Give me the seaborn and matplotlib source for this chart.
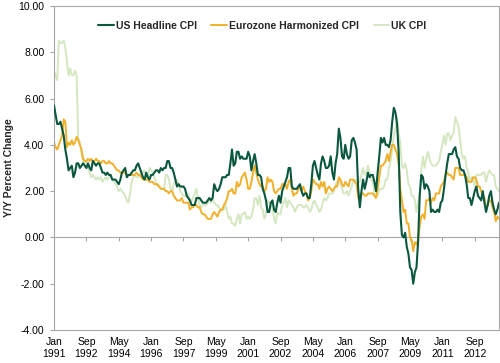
#!/usr/bin/env python3
"""
Year-over-year CPI: US headline, Eurozone harmonized and UK, monthly 1991-2013.
"""

import matplotlib

matplotlib.use("Agg")
import matplotlib.pyplot as plt
import numpy as np
import pandas as pd
import seaborn as sns
from matplotlib.ticker import FormatStrFormatter


START_MONTH = "1991-01"
SERIES = ["US Headline CPI", "Eurozone Harmonized CPI", "UK CPI"]
COLORS = ["#0A573F", "#F0B02A", "#D5E7C1"]
LINE_WIDTHS = [1.5, 1.4, 1.4]
DRAW_ORDER = [3, 2, 1]
GREY = "#A6A6A6"
TICK_EVERY = 20

# monthly y/y % change, one row per year
us_cpi = [
    5.7, 5.3, 4.9, 4.9, 5.0, 4.7, 4.4, 3.8, 3.4, 2.9, 3.0, 3.1,
    2.6, 2.8, 3.2, 3.2, 3.0, 3.1, 3.2, 3.1, 3.0, 3.2, 3.0, 2.9,
    3.3, 3.2, 3.1, 3.2, 3.2, 3.0, 2.8, 2.8, 2.7, 2.8, 2.7, 2.7,
    2.5, 2.5, 2.5, 2.4, 2.3, 2.5, 2.8, 2.9, 3.0, 2.6, 2.7, 2.7,
    2.8, 2.9, 2.9, 3.1, 3.2, 3.0, 2.8, 2.6, 2.5, 2.8, 2.6, 2.5,
    2.7, 2.7, 2.8, 2.9, 2.9, 2.8, 3.0, 2.9, 3.0, 3.0, 3.3, 3.3,
    3.0, 3.0, 2.8, 2.5, 2.2, 2.3, 2.2, 2.2, 2.2, 2.1, 1.8, 1.7,
    1.6, 1.4, 1.4, 1.4, 1.7, 1.7, 1.7, 1.6, 1.5, 1.5, 1.5, 1.6,
    1.7, 1.6, 1.7, 2.3, 2.1, 2.0, 2.1, 2.3, 2.6, 2.6, 2.6, 2.7,
    2.7, 3.2, 3.8, 3.1, 3.2, 3.7, 3.7, 3.4, 3.5, 3.4, 3.4, 3.4,
    3.7, 3.5, 2.9, 3.3, 3.6, 3.2, 2.7, 2.7, 2.6, 2.1, 1.9, 1.6,
    1.1, 1.1, 1.5, 1.6, 1.2, 1.1, 1.5, 1.8, 1.5, 2.0, 2.2, 2.4,
    2.6, 3.0, 3.0, 2.2, 2.1, 2.1, 2.1, 2.2, 2.3, 2.0, 1.8, 1.9,
    1.9, 1.7, 1.7, 2.3, 3.1, 3.3, 3.0, 2.7, 2.5, 3.2, 3.5, 3.3,
    3.0, 3.0, 3.1, 3.5, 2.8, 2.5, 3.2, 3.6, 4.7, 4.3, 3.5, 3.4,
    4.0, 3.6, 3.4, 3.5, 4.2, 4.3, 4.1, 3.8, 2.1, 1.3, 2.0, 2.5,
    2.1, 2.4, 2.8, 2.6, 2.7, 2.7, 2.4, 2.0, 2.8, 3.5, 4.3, 4.1,
    4.3, 4.0, 4.0, 3.9, 4.2, 5.0, 5.6, 5.4, 4.9, 3.7, 1.1, 0.1,
    0.0, 0.2, -0.4, -0.7, -1.3, -1.4, -2.0, -1.5, -1.3, -0.2, 1.8, 2.7,
    2.6, 2.1, 2.3, 2.2, 2.0, 1.1, 1.2, 1.1, 1.1, 1.2, 1.1, 1.5,
    1.6, 2.1, 2.7, 3.2, 3.6, 3.6, 3.6, 3.8, 3.9, 3.5, 3.4, 3.0,
    2.9, 2.9, 2.7, 2.3, 1.7, 1.7, 1.4, 1.7, 2.0, 2.2, 1.8, 1.7,
    1.6, 2.0, 1.5, 1.1, 1.4, 1.8, 2.0, 1.5, 1.2, 1.0, 1.2, 1.5,
]

ez_hicp = [
    4.1, 3.9, 3.8, 4.0, 4.2, 4.4, 5.1, 5.0, 3.9, 4.1, 4.0, 4.2,
    4.0, 4.1, 4.35, 4.2, 4.0, 3.8, 3.4, 3.3, 3.3, 3.4, 3.3, 3.4,
    3.3, 3.3, 3.4, 3.3, 3.3, 3.2, 3.3, 3.3, 3.2, 3.2, 3.3, 3.2,
    3.2, 3.1, 3.0, 2.9, 2.9, 2.8, 2.8, 2.8, 2.8, 2.7, 2.7, 2.7,
    2.7, 2.7, 2.7, 2.8, 2.7, 2.7, 2.6, 2.5, 2.5, 2.5, 2.5, 2.4,
    2.4, 2.4, 2.3, 2.3, 2.3, 2.2, 2.1, 2.1, 2.1, 2.0, 2.0, 1.9,
    2.0, 2.0, 1.8, 1.7, 1.6, 1.6, 1.6, 1.7, 1.5, 1.5, 1.5, 1.5,
    1.2, 1.3, 1.3, 1.4, 1.4, 1.3, 1.3, 1.1, 1.0, 1.0, 0.9, 0.8,
    0.8, 0.8, 1.0, 1.1, 1.0, 0.9, 1.1, 1.2, 1.2, 1.4, 1.5, 1.7,
    2.0, 2.0, 2.1, 1.9, 1.9, 2.4, 2.2, 2.3, 2.6, 2.7, 2.8, 2.5,
    2.1, 2.1, 2.4, 2.8, 3.1, 2.8, 2.5, 2.3, 2.2, 2.2, 2.0, 2.1,
    2.6, 2.4, 2.5, 2.4, 2.0, 1.9, 2.0, 2.1, 2.1, 2.3, 2.3, 2.3,
    2.1, 2.4, 2.5, 2.1, 1.8, 1.9, 1.9, 2.1, 2.2, 2.0, 2.2, 2.0,
    1.9, 1.6, 1.7, 2.0, 2.5, 2.4, 2.3, 2.3, 2.1, 2.4, 2.2, 2.4,
    1.9, 2.1, 2.2, 2.1, 2.0, 2.1, 2.2, 2.2, 2.6, 2.5, 2.3, 2.2,
    2.4, 2.3, 2.2, 2.5, 2.5, 2.5, 2.4, 2.3, 1.7, 1.6, 1.9, 1.9,
    1.8, 1.8, 1.9, 1.9, 1.9, 1.9, 1.8, 1.7, 2.1, 2.6, 3.1, 3.1,
    3.2, 3.3, 3.6, 3.3, 3.7, 4.0, 4.0, 3.8, 3.6, 3.2, 2.1, 1.6,
    1.1, 1.2, 0.6, 0.6, 0.0, -0.1, -0.6, -0.2, -0.3, -0.1, 0.5, 0.9,
    1.0, 0.8, 1.6, 1.6, 1.7, 1.5, 1.7, 1.6, 1.9, 1.9, 1.9, 2.2,
    2.3, 2.4, 2.7, 2.8, 2.7, 2.7, 2.6, 2.5, 3.0, 3.0, 3.0, 2.7,
    2.7, 2.7, 2.7, 2.6, 2.4, 2.4, 2.4, 2.6, 2.6, 2.5, 2.2, 2.2,
    2.0, 1.8, 1.7, 1.2, 1.4, 1.6, 1.6, 1.3, 1.1, 0.7, 0.9, 0.8,
]

uk_cpi = [
    7.2, 7.0, 6.8, 8.5, 8.4, 8.4, 8.5, 8.2, 7.6, 7.0, 7.3, 7.0,
    7.0, 7.2, 7.0, 4.3, 4.1, 3.6, 3.3, 3.2, 3.3, 3.0, 2.8, 2.6,
    2.7, 2.6, 2.5, 2.6, 2.5, 2.6, 2.4, 2.5, 2.6, 2.5, 2.6, 2.7,
    2.5, 2.4, 2.3, 2.2, 2.0, 2.1, 2.0, 1.9, 1.8, 1.6, 1.5, 1.9,
    2.4, 2.6, 2.7, 2.6, 2.6, 2.7, 2.8, 2.8, 2.9, 2.6, 2.6, 3.0,
    2.9, 2.8, 2.6, 2.4, 2.2, 2.2, 2.1, 2.1, 2.1, 2.7, 2.7, 2.5,
    2.1, 2.0, 2.3, 2.4, 2.5, 2.3, 2.0, 1.9, 1.8, 1.8, 1.8, 1.9,
    1.5, 1.6, 1.7, 1.9, 2.1, 1.7, 1.4, 1.3, 1.4, 1.4, 1.4, 1.5,
    1.6, 1.5, 1.7, 1.5, 1.4, 1.4, 1.3, 1.2, 1.2, 1.2, 1.4, 1.1,
    0.8, 0.9, 0.6, 0.6, 0.5, 0.8, 1.0, 0.6, 1.0, 1.0, 1.1, 0.8,
    0.9, 0.8, 0.9, 1.2, 1.7, 1.7, 1.4, 1.8, 1.3, 1.2, 0.8, 1.0,
    1.6, 1.5, 1.5, 1.3, 0.8, 0.6, 1.1, 1.0, 1.0, 1.4, 1.5, 1.7,
    1.3, 1.6, 1.5, 1.4, 1.3, 1.1, 1.3, 1.4, 1.4, 1.4, 1.3, 1.3,
    1.4, 1.3, 1.1, 1.2, 1.5, 1.6, 1.4, 1.3, 1.1, 1.2, 1.5, 1.7,
    1.6, 1.7, 1.9, 1.9, 1.9, 2.0, 2.3, 2.4, 2.5, 2.3, 2.1, 1.9,
    1.9, 2.0, 1.8, 2.0, 2.2, 2.5, 2.4, 2.5, 2.4, 2.4, 2.7, 3.0,
    2.7, 2.8, 3.1, 2.8, 2.5, 2.4, 1.9, 1.8, 1.8, 2.1, 2.1, 2.1,
    2.2, 2.5, 2.5, 3.0, 3.3, 3.8, 4.4, 4.7, 5.2, 4.5, 4.1, 3.1,
    3.0, 3.2, 2.9, 2.3, 2.2, 1.8, 1.8, 1.6, 1.1, 1.5, 1.9, 2.9,
    3.5, 3.0, 3.4, 3.7, 3.4, 3.2, 3.1, 3.1, 3.1, 3.2, 3.3, 3.7,
    4.0, 4.4, 4.0, 4.5, 4.5, 4.2, 4.4, 4.5, 5.2, 5.0, 4.8, 4.2,
    3.6, 3.4, 3.5, 3.0, 2.8, 2.4, 2.6, 2.5, 2.2, 2.7, 2.7, 2.7,
    2.7, 2.8, 2.8, 2.4, 2.7, 2.9, 2.8, 2.7, 2.7, 2.2, 2.1, 2.0,
]

y_ticks = [-4, -2, 0, 2, 4, 6, 8, 10]


def main() -> None:
    sns.set_theme(style="white")
    plt.rcParams["font.family"] = ["Liberation Sans", "DejaVu Sans"]

    months = pd.date_range(START_MONTH, periods=len(us_cpi), freq="MS")
    step = np.arange(len(months))
    tick_pos = step[::TICK_EVERY]
    tick_labels = [months[i].strftime("%b\n%Y") for i in tick_pos]

    fig, ax = plt.subplots(figsize=(5.0, 3.63))
    fig.subplots_adjust(left=0.108, right=0.998, top=0.9835, bottom=0.0909)

    handles = []
    for name, values, color, lw, z in zip(
        SERIES, [us_cpi, ez_hicp, uk_cpi], COLORS, LINE_WIDTHS, DRAW_ORDER
    ):
        sns.lineplot(x=step, y=values, color=color, linewidth=lw, label=name,
                     zorder=z, ax=ax)
        handles.append(ax.lines[-1])

    ax.set_xlim(step[0], step[-1])
    ax.set_ylim(y_ticks[0], y_ticks[-1])
    ax.set_yticks(y_ticks)
    ax.yaxis.set_major_formatter(FormatStrFormatter("%.2f"))
    ax.set_xticks(tick_pos, labels=tick_labels)
    ax.tick_params(axis="x", length=0, pad=5, labelsize=7.5, colors="black")
    ax.tick_params(axis="y", length=3, width=0.8, color=GREY, direction="out",
                   pad=4, labelsize=7.5, labelcolor="black", left=True)
    for spine in ax.spines.values():
        spine.set_color(GREY)
        spine.set_linewidth(0.8)

    # category axis crosses at zero, labels stay at the bottom
    zero_frac = (0 - y_ticks[0]) / (y_ticks[-1] - y_ticks[0])
    sec = ax.secondary_xaxis(zero_frac)
    sec.set_xticks(tick_pos)
    sec.tick_params(axis="x", direction="out", length=3, width=0.8, color=GREY,
                    labelbottom=False)
    sec.spines["bottom"].set_color(GREY)
    sec.spines["bottom"].set_linewidth(0.8)

    ax.set_xlabel("")
    ax.set_ylabel("Y/Y Percent Change", fontsize=7.5, fontweight="bold")
    ax.yaxis.set_label_coords(-0.09, 0.5)

    ax.legend(handles, SERIES, loc="center", bbox_to_anchor=(0.468, 0.938),
              ncol=3, frameon=False, prop={"weight": "bold", "size": 7.5},
              handlelength=1.5, handletextpad=0.2, columnspacing=1.4)

    fig.savefig("out.png", dpi=100)
    plt.close(fig)


if __name__ == "__main__":
    main()
